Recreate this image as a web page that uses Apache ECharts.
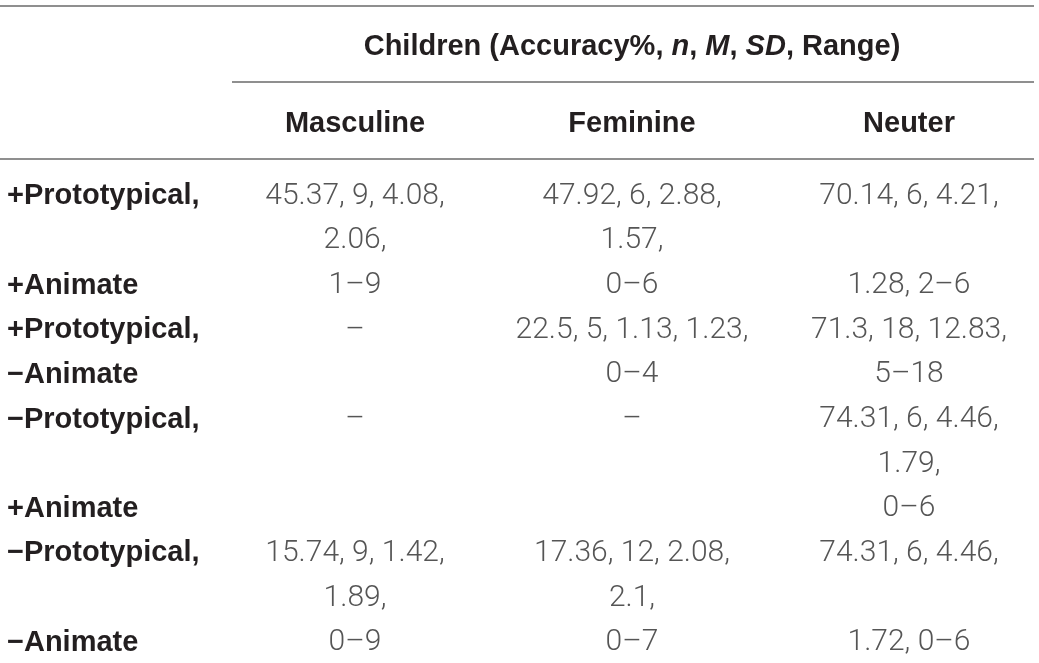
<!DOCTYPE html>
<html>
<head>
<meta charset="utf-8">
<script src="https://cdn.jsdelivr.net/npm/echarts@6/dist/echarts.min.js"></script>
<style>
  html, body { margin: 0; padding: 0; background: #fff; }
  #chartData { width: 1039px; height: 663px; }
</style>
</head>
<body>
<div id="chartData"></div>
<script>
// column headers (Children group)
var colHeaders = ['Masculine', 'Feminine', 'Neuter'];

// one entry per printed text line of the table body
var rowLabels = ['+Prototypical,', '', '+Animate', '+Prototypical,', '\u2212Animate',
    '\u2212Prototypical,', '', '+Animate', '\u2212Prototypical,', '', '\u2212Animate'];

// Accuracy%, n, M, SD, Range  (wrapped as in the printed table)
var masculine = ['45.37, 9, 4.08,', '2.06,', '1–9', '–', '', '–', '', '',
    '15.74, 9, 1.42,', '1.89,', '0–9'];
var feminine = ['47.92, 6, 2.88,', '1.57,', '0–6', '22.5, 5, 1.13, 1.23,', '0–4', '–', '', '',
    '17.36, 12, 2.08,', '2.1,', '0–7'];
var neuter = ['70.14, 6, 4.21,', '', '1.28, 2–6', '71.3, 18, 12.83,', '5–18',
    '74.31, 6, 4.46,', '1.79,', '0–6', '74.31, 6, 4.46,', '', '1.72, 0–6'];

var columns = [masculine, feminine, neuter];

var myChart = echarts.init(document.getElementById('chartData'));

var lineKeys = rowLabels.map(function (d, i) { return 'line' + i; });

var boldFont = {
    fontFamily: 'Liberation Sans',
    fontWeight: 'bold',
    fontSize: 29,
    color: '#231f20'
};

// build the text cells
var series = columns.map(function (col, c) {
    var data = [];
    col.forEach(function (txt, i) {
        if (txt !== '') {
            data.push([colHeaders[c], lineKeys[i], txt]);
        }
    });
    return {
        name: colHeaders[c],
        type: 'scatter',
        symbolSize: 0,
        silent: true,
        data: data,
        label: {
            show: true,
            position: 'inside',
            formatter: function (p) { return p.value[2]; },
            fontFamily: 'Roboto',
            fontWeight: 300,
            fontSize: 30,
            color: '#2b2b2b'
        }
    };
});

var ruleStyle = { stroke: '#8f8f8f', lineWidth: 2 };

var option = {
    animation: false,
    backgroundColor: '#fff',
    grid: {
        left: 216.5,
        right: -8.5,
        top: 174,
        bottom: -2,
        outerBoundsMode: 'none'
    },
    xAxis: {
        type: 'category',
        position: 'top',
        data: colHeaders,
        name: '{b|Children (Accuracy%, }{bi|n}{b|, }{bi|M}{b|, }{bi|SD}{b|, Range)}',
        nameLocation: 'middle',
        nameGap: 113,
        nameTextStyle: {
            rich: {
                b: { fontFamily: 'Liberation Sans', fontWeight: 'bold', fontSize: 29, color: '#231f20' },
                bi: { fontFamily: 'Liberation Sans', fontWeight: 'bold', fontStyle: 'italic', fontSize: 29, color: '#231f20' }
            }
        },
        axisLine: { show: false },
        axisTick: { show: false },
        splitLine: { show: false },
        axisLabel: Object.assign({ interval: 0, margin: 50, verticalAlign: 'middle' }, boldFont)
    },
    yAxis: {
        type: 'category',
        inverse: true,
        data: lineKeys,
        axisLine: { show: false },
        axisTick: { show: false },
        splitLine: { show: false },
        axisLabel: Object.assign({
            interval: 0,
            margin: 209.5,
            align: 'left',
            formatter: function (v, i) { return rowLabels[i]; }
        }, boldFont)
    },
    // table rules
    graphic: [
        { type: 'line', shape: { x1: 0, y1: 6, x2: 1034, y2: 6 }, style: ruleStyle },
        { type: 'line', shape: { x1: 232, y1: 82, x2: 1034, y2: 82 }, style: ruleStyle },
        { type: 'line', shape: { x1: 0, y1: 159, x2: 1034, y2: 159 }, style: ruleStyle }
    ],
    series: series
};

myChart.setOption(option);
</script>
</body>
</html>
